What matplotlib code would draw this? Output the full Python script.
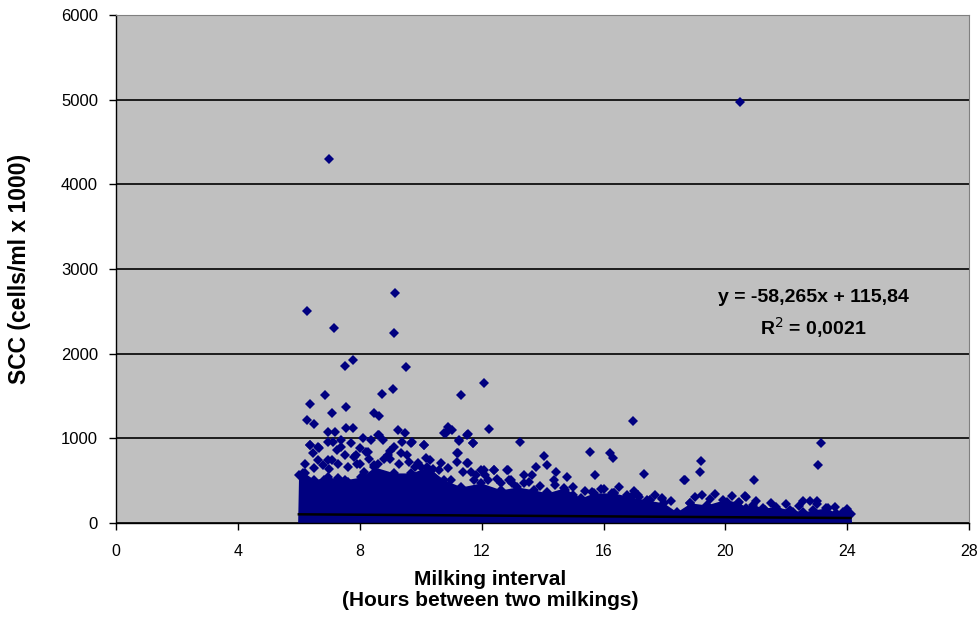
import numpy as np
import matplotlib.pyplot as plt

plt.rcParams['font.family'] = ['Liberation Sans', 'DejaVu Sans']

# dichter Kern der Punktwolke: obere Kante (Stunden, SCC)
core_hours = [5.96, 5.99, 6.19, 6.51, 6.94, 7.50, 8.05, 8.48, 9.13, 9.69,
              10.21, 10.77, 11.33, 11.98, 12.64, 13.16, 13.72, 14.14, 14.70, 15.25,
              15.68, 16.33, 16.89, 17.41, 17.97, 18.40, 18.85, 19.38, 19.93, 20.43,
              20.69, 20.92, 21.24, 21.67, 22.13, 22.55, 22.88, 23.31, 23.63, 23.96,
              24.12, 24.14]
core_top = [0, 560, 590, 508, 543, 508, 543, 660, 590, 590,
            660, 508, 425, 472, 390, 425, 390, 354, 413, 295,
            354, 354, 307, 271, 236, 130, 236, 212, 271, 248,
            177, 212, 177, 189, 153, 130, 153, 177, 118, 130,
            100, 0]

# einzelne Messwerte oberhalb des Kerns
hours = [20.49, 7.00, 6.28, 7.14, 9.17, 9.13, 7.50, 7.79, 9.53, 12.09,
         6.87, 11.31, 8.73, 9.09, 6.38, 7.55, 7.08, 8.48, 8.64, 6.27,
         6.49, 12.24, 10.90, 11.03, 10.75, 11.54, 13.25, 15.57, 16.22, 16.31,
         16.95, 17.34, 19.19, 19.17, 18.66, 20.94, 19.66, 20.66, 23.13, 23.04,
         22.55, 22.77, 22.99, 17.92, 17.54, 17.15, 16.28,
         6.35, 6.64, 6.97, 6.94, 7.39, 8.10, 8.37, 8.64, 8.75, 9.13,
         9.40, 9.68, 10.10, 10.82, 11.53, 11.26, 11.70, 6.62, 6.95, 7.82,
         8.20, 7.50, 8.48, 8.91, 9.35, 9.90, 10.17, 10.66, 11.20, 11.20,
         11.53, 11.97, 12.40, 12.84, 12.62, 12.95, 6.13, 6.84, 7.28, 7.60,
         8.15, 8.70, 10.00, 10.45, 10.99, 11.65, 11.76, 12.20,
         14.04, 14.13, 13.77, 13.66, 13.55, 14.43, 14.37, 14.80, 15.73, 18.65,
         14.15, 14.75, 15.62, 16.33, 16.76, 17.14, 17.53, 17.91, 19.22, 18.84,
         20.05, 20.64, 20.42, 20.92, 21.30, 21.68, 22.23, 23.37, 23.86,
         6.38, 6.66, 7.17, 7.11, 7.55, 7.79, 8.59, 9.24, 9.49, 9.70,
         10.12, 11.26, 11.70, 7.10, 7.88, 8.26, 7.39, 11.21, 11.54, 12.08,
         12.41, 12.85, 12.90, 9.00, 9.60, 10.40, 8.00, 13.40, 15.00, 16.00,
         6.20, 6.50, 6.80, 7.00, 7.30, 7.60, 7.90, 6.45, 7.25, 7.70,
         8.00, 8.30, 8.60, 8.80, 9.00, 9.30, 9.55, 9.80, 10.30, 10.60,
         10.90, 11.40, 11.80, 12.10, 12.50, 13.00, 13.40, 13.90, 14.40, 15.00,
         15.40, 15.90, 16.50, 17.00, 17.70, 18.20, 19.00, 19.50, 20.20, 21.00,
         21.50, 22.00, 22.40, 23.00, 23.60, 24.00]
scc = [4970, 4300, 2503, 2306, 2719, 2243, 1857, 1921, 1842, 1649,
       1515, 1515, 1523, 1582, 1409, 1373, 1295, 1302, 1267, 1216,
       1169, 1113, 1137, 1098, 1066, 1051, 960, 842, 823, 764,
       1200, 574, 732, 598, 508, 504, 342, 311, 941, 688,
       260, 260, 260, 280, 272, 311, 350,
       921, 894, 1079, 960, 980, 1000, 980, 1039, 980, 902,
       960, 941, 921, 1067, 1039, 980, 941, 740, 744, 783,
       843, 803, 685, 803, 822, 705, 764, 705, 822, 724,
       705, 626, 626, 626, 469, 508, 587, 508, 528, 488,
       606, 488, 665, 547, 508, 606, 508, 508,
       791, 685, 665, 567, 488, 606, 508, 547, 567, 508,
       370, 390, 370, 350, 330, 330, 272, 291, 330, 232,
       252, 319, 232, 193, 154, 162, 134, 173, 134,
       921, 890, 1078, 960, 1118, 1118, 1039, 1098, 1059, 953,
       921, 972, 941, 744, 803, 842, 901, 831, 705, 626,
       626, 626, 508, 760, 720, 640, 700, 560, 330, 400,
       700, 650, 680, 640, 700, 660, 700, 820, 860, 940,
       880, 760, 700, 760, 850, 700, 800, 660, 740, 620,
       650, 600, 560, 560, 520, 470, 470, 430, 450, 420,
       380, 400, 420, 380, 330, 260, 300, 280, 320, 260,
       240, 220, 200, 220, 190, 160]

# lineare Regression (x in Tagen)
slope, intercept = -58.265, 115.84
fit_hours = np.array([6.0, 24.1])
fit_scc = slope * fit_hours / 24 + intercept

navy = '#000080'
msize = 5.6

fig = plt.figure(figsize=(9.8, 6.21), dpi=100)
ax = fig.add_axes([0.1184, 0.158, 0.8706, 0.818])
ax.set_facecolor('#c0c0c0')

ax.fill_between(core_hours, core_top, 0, color=navy, linewidth=0, zorder=2)
ax.plot(core_hours[1:-1], core_top[1:-1], 'D', color=navy, markersize=msize,
        markeredgewidth=0, zorder=2)
ax.plot(hours, scc, 'D', color=navy, markersize=msize, markeredgewidth=0, zorder=3)
ax.plot(fit_hours, fit_scc, color='black', linewidth=1.8, zorder=4)

ax.text(22.9, 2657, 'y = -58,265x + 115,84', ha='center', va='center',
        fontsize=14, fontweight='bold', color='black')
ax.text(22.9, 2303, r'R$^{2}$ = 0,0021', ha='center', va='center',
        fontsize=14, fontweight='bold', color='black')

ax.set_xlim(0, 28)
ax.set_ylim(0, 6000)
ax.set_xticks(np.arange(0, 29, 4))
ax.set_yticks(np.arange(0, 6001, 1000))
ax.yaxis.grid(True, color='black', linewidth=1.2)
ax.set_axisbelow(True)

for side in ['top', 'right']:
    ax.spines[side].set_color('#808080')
for side in ['left', 'bottom']:
    ax.spines[side].set_color('black')
    ax.spines[side].set_linewidth(1.0)

ax.tick_params(axis='x', direction='out', length=5, width=1, pad=10, labelsize=11.5)
ax.tick_params(axis='y', direction='out', length=5, width=1, pad=8, labelsize=12)

ax.set_xlabel('Milking interval\n(Hours between two milkings)', fontsize=15,
              fontweight='bold', linespacing=1.15)
ax.xaxis.set_label_coords(0.439, -0.093)
ax.xaxis.label.set_va('top')
ax.set_ylabel('SCC (cells/ml x 1000)', fontsize=16.5, fontweight='bold')
ax.yaxis.set_label_coords(-0.100, 0.5)

fig.savefig('out.png', dpi=100)
